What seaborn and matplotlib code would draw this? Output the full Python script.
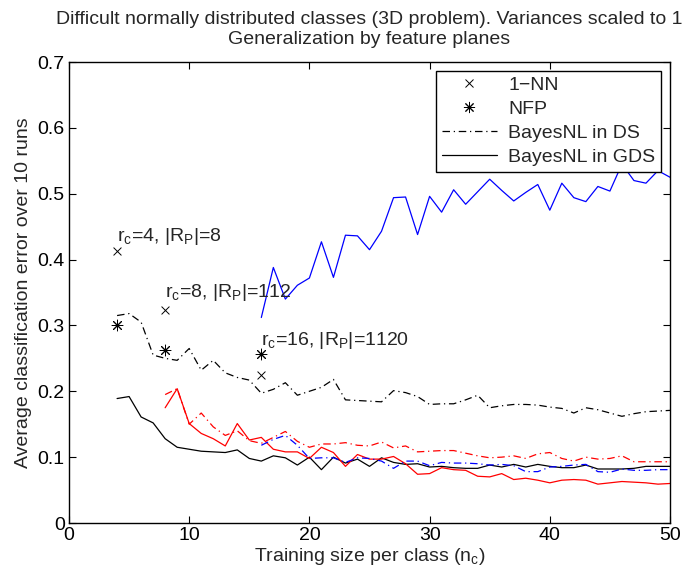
import numpy as np
import pandas as pd
import matplotlib
matplotlib.use("Agg")
import matplotlib.pyplot as plt
from matplotlib.lines import Line2D
import seaborn as sns

# ---------------- data ----------------
n4 = list(range(4, 51))
n8 = list(range(8, 51))
n16 = list(range(16, 51))

ds_rc4 = [0.315, 0.318, 0.305, 0.255, 0.250, 0.247, 0.265, 0.232, 0.247, 0.228,
          0.221, 0.217, 0.197, 0.203, 0.213, 0.194, 0.200, 0.206, 0.218, 0.187,
          0.186, 0.185, 0.184, 0.201, 0.198, 0.192, 0.180, 0.181, 0.181, 0.187,
          0.194, 0.175, 0.178, 0.180, 0.180, 0.179, 0.176, 0.174, 0.167, 0.175,
          0.172, 0.167, 0.162, 0.166, 0.169, 0.170, 0.171]
gds_rc4 = [0.189, 0.192, 0.161, 0.152, 0.128, 0.115, 0.112, 0.109, 0.108, 0.107,
           0.111, 0.098, 0.094, 0.102, 0.099, 0.088, 0.100, 0.081, 0.100, 0.091,
           0.097, 0.086, 0.099, 0.092, 0.089, 0.090, 0.085, 0.086, 0.084, 0.083,
           0.083, 0.088, 0.085, 0.089, 0.085, 0.089, 0.086, 0.084, 0.084, 0.088,
           0.082, 0.082, 0.082, 0.083, 0.086, 0.086, 0.086]
ds_rc8 = [0.195, 0.204, 0.150, 0.167, 0.146, 0.133, 0.140, 0.125, 0.121, 0.130,
          0.139, 0.124, 0.115, 0.120, 0.120, 0.122, 0.118, 0.117, 0.123, 0.114,
          0.117, 0.108, 0.109, 0.110, 0.110, 0.106, 0.102, 0.099, 0.100, 0.102,
          0.098, 0.105, 0.107, 0.098, 0.094, 0.100, 0.097, 0.098, 0.102, 0.093,
          0.093, 0.093, 0.093]
gds_rc8 = [0.175, 0.204, 0.151, 0.136, 0.128, 0.117, 0.151, 0.126, 0.130, 0.112,
           0.108, 0.108, 0.098, 0.115, 0.107, 0.086, 0.104, 0.097, 0.097, 0.101,
           0.090, 0.074, 0.075, 0.084, 0.081, 0.080, 0.071, 0.070, 0.075, 0.066,
           0.068, 0.065, 0.061, 0.065, 0.066, 0.065, 0.059, 0.061, 0.063, 0.062,
           0.061, 0.059, 0.060]
ds_rc16 = [0.118, 0.127, 0.133, 0.118, 0.098, 0.099, 0.099, 0.092, 0.099, 0.098,
           0.094, 0.083, 0.094, 0.094, 0.087, 0.092, 0.091, 0.091, 0.090, 0.088,
           0.089, 0.087, 0.078, 0.078, 0.085, 0.086, 0.088, 0.089, 0.078, 0.077,
           0.082, 0.080, 0.080, 0.081, 0.081]
gds_rc16 = [0.312, 0.388, 0.340, 0.361, 0.372, 0.427, 0.373, 0.437, 0.436, 0.415,
            0.443, 0.494, 0.495, 0.438, 0.496, 0.472, 0.506, 0.484, 0.503, 0.522,
            0.505, 0.489, 0.502, 0.514, 0.475, 0.516, 0.494, 0.488, 0.511, 0.504,
            0.545, 0.520, 0.516, 0.535, 0.525]

mark_x = [4, 8, 16]
nn1_err = [0.413, 0.324, 0.225]
nfp_err = [0.300, 0.262, 0.256]
annot_text = [r"r$_\mathregular{c}$=4, |R$_\mathregular{P}$|=8",
              r"r$_\mathregular{c}$=8, |R$_\mathregular{P}$|=112",
              r"r$_\mathregular{c}$=16, |R$_\mathregular{P}$|=1120"]
annot_y = [0.435, 0.350, 0.277]

# ---------------- style ----------------
sns.set_theme(style="ticks")
plt.rcParams["font.family"] = ["Liberation Sans", "DejaVu Sans"]
plt.rcParams["mathtext.fontset"] = "custom"
plt.rcParams["mathtext.rm"] = "Liberation Sans"
plt.rcParams["xtick.direction"] = "in"
plt.rcParams["ytick.direction"] = "in"

fig = plt.figure(figsize=(6.92, 5.77), dpi=100)
ax = fig.add_axes([69/692, 1-523/577, (670-69)/692, (523-62)/577])

dashdot = (0, (6, 3, 1, 3))
lw = 0.9
series = [
    (n4, ds_rc4, "black", dashdot),
    (n4, gds_rc4, "black", "-"),
    (n8, ds_rc8, "red", dashdot),
    (n8, gds_rc8, "red", "-"),
    (n16, ds_rc16, "blue", dashdot),
    (n16, gds_rc16, "blue", "-"),
]
for xs, ys, c, ls in series:
    sns.lineplot(x=xs, y=ys, color=c, linestyle=ls, linewidth=lw, ax=ax, legend=False)

asterisk = (8, 2, 0)
sns.scatterplot(x=mark_x, y=nn1_err, color="black", marker="x", s=32,
                linewidth=0.7, ax=ax, legend=False, zorder=3)
sns.scatterplot(x=mark_x, y=nfp_err, marker=asterisk, s=60, color="black",
                edgecolor="black", linewidth=0.7, ax=ax, legend=False, zorder=3)

for xv, yv, t in zip(mark_x, annot_y, annot_text):
    ax.text(xv, yv, t, fontsize=14, va="center", ha="left")

ax.set_xlim(0, 50)
ax.set_ylim(0, 0.7)
ax.set_xticks([0, 10, 20, 30, 40, 50])
ax.set_yticks([0, 0.1, 0.2, 0.3, 0.4, 0.5, 0.6, 0.7])
ax.set_yticklabels(["0", "0.1", "0.2", "0.3", "0.4", "0.5", "0.6", "0.7"])
ax.tick_params(axis="both", labelsize=14, length=5, width=0.8, top=True, right=True,
               color="black", labelcolor="black", pad=3)
for s in ax.spines.values():
    s.set_visible(True)
    s.set_color("black")
    s.set_linewidth(1.0)

ax.set_xlabel(r"Training size per class (n$_\mathregular{c}$)", fontsize=14, labelpad=1)
ax.set_ylabel("Average classification error over 10 runs", fontsize=14, labelpad=4)
ax.set_title("Difficult normally distributed classes (3D problem). Variances scaled to 1\n"
             "Generalization by feature planes", fontsize=14, pad=13, linespacing=1.2)

legend_labels = ["1\u2212NN", "NFP", "BayesNL in DS", "BayesNL in GDS"]
handles = [
    Line2D([], [], color="black", marker="x", linestyle="none", markersize=6,
           markeredgewidth=0.7),
    Line2D([], [], color="black", marker=asterisk, linestyle="none", markersize=8,
           markeredgewidth=0.7),
    Line2D([], [], color="black", linestyle=dashdot, linewidth=lw),
    Line2D([], [], color="black", linestyle="-", linewidth=lw),
]
leg = ax.legend(handles, legend_labels, loc="upper right", fontsize=14,
                frameon=True, fancybox=False, edgecolor="black", framealpha=1,
                handlelength=2.8, borderaxespad=0.45, labelspacing=0.32,
                borderpad=0.3, handletextpad=0.6)
leg.get_frame().set_linewidth(1.0)

fig.savefig("out.png", dpi=100)
